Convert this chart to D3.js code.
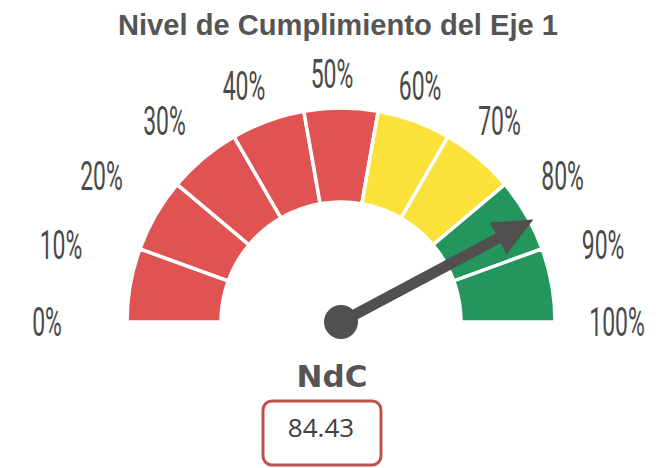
<!DOCTYPE html>
<html>
<head>
<meta charset="utf-8">
<script src="https://cdn.jsdelivr.net/npm/d3@7"></script>
<style>
  body { margin: 0; background: #fff; }
</style>
</head>
<body>
<div id="gauge"></div>
<script>
const title = "Nivel de Cumplimiento del Eje 1"
const ticks = [0, 10, 20, 30, 40, 50, 60, 70, 80, 90, 100]
// the dial has 9 equal segments
const segColors = ["#e05353", "#e05353", "#e05353", "#e05353", "#e05353",
                   "#fae23a", "#fae23a", "#23965e", "#23965e"]
const value = 84.43
const valueLabel = "NdC"

const W = 656, H = 468
const cx = 341, cy = 322
const rOuter = 214, rInner = 120

const svg = d3.select("#gauge")
  .append("svg")
  .attr("width", W)
  .attr("height", H)

const angle = d3.scaleLinear().domain([0, 100]).range([-Math.PI / 2, Math.PI / 2])
const segAngle = d3.scaleLinear().domain([0, segColors.length]).range([-Math.PI / 2, Math.PI / 2])

const arc = d3.arc()
  .innerRadius(rInner)
  .outerRadius(rOuter)
  .startAngle((d, i) => segAngle(i))
  .endAngle((d, i) => segAngle(i + 1))

const g = svg.append("g").attr("transform", `translate(${cx},${cy})`)

g.selectAll(".seg")
  .data(segColors)
  .join("path")
  .attr("class", "seg")
  .attr("d", arc)
  .attr("fill", d => d)
  .attr("stroke", "#fff")
  .attr("stroke-width", 3.5)

// tick labels, placed on a flattened ring around the dial
const lx = -9, rx = 285, ry = 248
g.selectAll(".lbl")
  .data(ticks)
  .join("text")
  .attr("class", "lbl")
  .attr("transform", d => {
    const a = angle(d)
    return `translate(${lx + rx * Math.sin(a)},${-ry * Math.cos(a) + 14}) scale(0.56,1)`
  })
  .attr("text-anchor", "middle")
  .style("font-family", "Roboto, 'DejaVu Sans', sans-serif")
  .style("font-weight", 400)
  .style("font-size", "41px")
  .style("fill", "#4a4a4a")
  .text(d => d + "%")

// needle
const a = angle(value)
const len = 218, shaft = 5.5, headLen = 40, headW = 18
const needle = g.append("g")
  .attr("transform", `rotate(${a * 180 / Math.PI})`)

needle.append("path")
  .attr("d", `M${-shaft},0 L${-shaft},${-(len - headLen)} L${-headW},${-(len - headLen)} L0,${-len} L${headW},${-(len - headLen)} L${shaft},${-(len - headLen)} L${shaft},0 Z`)
  .attr("fill", "#524f4f")

g.append("circle")
  .attr("r", 17)
  .attr("fill", "#524f4f")

// title
svg.append("text")
  .attr("x", 338)
  .attr("y", 35)
  .attr("text-anchor", "middle")
  .attr("textLength", 440)
  .attr("lengthAdjust", "spacingAndGlyphs")
  .style("font-family", "'Liberation Sans', Arial, sans-serif")
  .style("font-weight", "bold")
  .style("font-size", "29px")
  .style("fill", "#555")
  .text(title)

svg.append("text")
  .attr("x", 332)
  .attr("y", 387)
  .attr("text-anchor", "middle")
  .style("font-family", "'DejaVu Sans', sans-serif")
  .style("font-weight", "bold")
  .style("font-size", "31px")
  .style("fill", "#555")
  .text(valueLabel)

svg.append("rect")
  .attr("x", 263)
  .attr("y", 401)
  .attr("width", 118)
  .attr("height", 64)
  .attr("rx", 9)
  .attr("fill", "#fff")
  .attr("stroke", "#c0504d")
  .attr("stroke-width", 3)

svg.append("text")
  .attr("x", 321)
  .attr("y", 437)
  .attr("text-anchor", "middle")
  .style("font-family", "'Open Sans', sans-serif")
  .style("font-size", "26px")
  .style("fill", "#404040")
  .text(value.toFixed(2))
</script>
</body>
</html>
